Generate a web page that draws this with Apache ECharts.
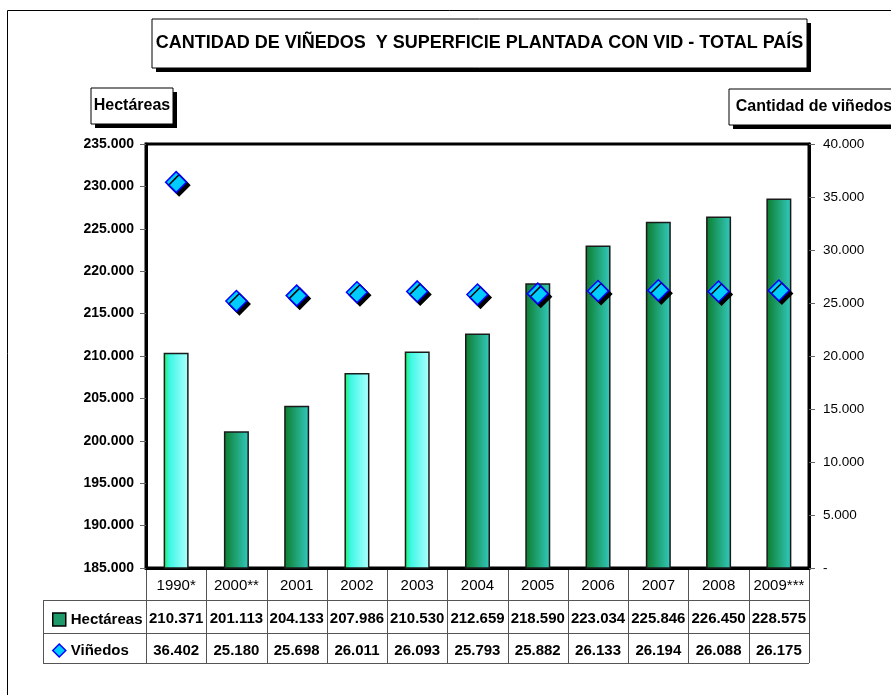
<!DOCTYPE html>
<html>
<head>
<meta charset="utf-8">
<script src="https://cdn.jsdelivr.net/npm/echarts@6/dist/echarts.min.js"></script>
<style>
  html, body { margin: 0; padding: 0; background: #fff; }
  #chart { width: 891px; height: 695px; }
</style>
</head>
<body>
<div id="chart"></div>
<script>
var years = ['1990*', '2000**', '2001', '2002', '2003', '2004', '2005', '2006', '2007', '2008', '2009***'];
var hectareas = [210371, 201113, 204133, 207986, 210530, 212659, 218590, 223034, 225846, 226450, 228575];
var vinedos = [36402, 25180, 25698, 26011, 26093, 25793, 25882, 26133, 26194, 26088, 26175];
// years drawn with the pale fill
var paleYears = ['1990*', '2002', '2003'];

var FONT = '"Liberation Sans", Arial, sans-serif';

function fmt(v) {
  if (v === 0) return '-';
  return String(v).replace(/\B(?=(\d{3})+(?!\d))/g, '.');
}

var darkFill = new echarts.graphic.LinearGradient(0, 0, 1, 0, [
  { offset: 0, color: '#0c7c2c' },
  { offset: 1, color: '#33cabf' }
]);
var paleFill = new echarts.graphic.LinearGradient(0, 0, 1, 0, [
  { offset: 0, color: '#1cee5a' },
  { offset: 0.25, color: '#3ff7e6' },
  { offset: 1, color: '#b0ffff' }
]);

// layout of the data table under the plot
var gL = 146, gR = 809, gT = 144, gB = 568;
var row1 = 600, row2 = 633, row3 = 663, tabLeft = 43;
var colW = (gR - gL) / years.length;

var lineStyle = { stroke: '#555', lineWidth: 1 };
var tableLines = [];
[row1, row2, row3].forEach(function(y) {
  tableLines.push({ type: 'line', shape: { x1: tabLeft, y1: y + 0.5, x2: gR, y2: y + 0.5 }, style: lineStyle, silent: true });
});
tableLines.push({ type: 'line', shape: { x1: tabLeft + 0.5, y1: row1, x2: tabLeft + 0.5, y2: row3 }, style: lineStyle, silent: true });
for (var i = 0; i <= years.length; i++) {
  var x = Math.round(gL + i * colW) + 0.5;
  tableLines.push({ type: 'line', shape: { x1: x, y1: gB, x2: x, y2: row3 }, style: lineStyle, silent: true });
}

function box(x, y, w, h, text, fontSize, bold) {
  return {
    type: 'group',
    children: [
      { type: 'rect', shape: { x: x + 4, y: y + 4, width: w, height: h }, style: { fill: '#000' } },
      { type: 'rect', shape: { x: x, y: y, width: w, height: h }, style: { fill: '#fff', stroke: '#000', lineWidth: 1 } },
      {
        type: 'text', x: x + w / 2, y: y + h / 2,
        style: {
          text: text, fill: '#000', font: (bold ? 'bold ' : '') + fontSize + 'px ' + FONT,
          textAlign: 'center', textVerticalAlign: 'middle'
        }
      }
    ]
  };
}

var chart = echarts.init(document.getElementById('chart'));

var tableLabel = { color: '#000', fontSize: 15, fontWeight: 'bold', margin: 10, interval: 0, fontFamily: FONT };

var option = {
  backgroundColor: '#fff',
  animation: false,
  textStyle: { fontFamily: FONT },
  grid: {
    left: gL, top: gT, width: gR - gL, height: gB - gT,
    show: true, borderColor: '#000', borderWidth: 3, backgroundColor: 'transparent'
  },
  legend: {
    orient: 'vertical',
    left: 47, top: 607,
    itemWidth: 13, itemHeight: 13, itemGap: 16,
    selectedMode: false,
    textStyle: { fontSize: 15, fontWeight: 'bold', color: '#000', fontFamily: FONT },
    data: [
      { name: 'Hectáreas', icon: 'rect', itemStyle: { color: '#1e9a6a', borderColor: '#000', borderWidth: 1.5 } },
      { name: 'Viñedos', icon: 'diamond', itemStyle: { color: '#00ccff', borderColor: '#0000ff', borderWidth: 1.5, shadowColor: 'transparent' } }
    ]
  },
  xAxis: [
    {
      type: 'category', data: years, position: 'bottom',
      axisLine: { show: true, lineStyle: { color: '#000', width: 3 } },
      axisTick: { show: false },
      axisLabel: { color: '#000', fontSize: 15, margin: 10, interval: 0, fontFamily: FONT }
    },
    {
      type: 'category', data: hectareas.map(fmt), position: 'bottom', offset: 33,
      axisLine: { show: false }, axisTick: { show: false },
      axisLabel: tableLabel
    },
    {
      type: 'category', data: vinedos.map(fmt), position: 'bottom', offset: 65,
      axisLine: { show: false }, axisTick: { show: false },
      axisLabel: tableLabel
    }
  ],
  yAxis: [
    {
      type: 'value', min: 185000, max: 235000, interval: 5000, position: 'left',
      axisLine: { show: true, lineStyle: { color: '#000', width: 3 } },
      axisTick: { show: true, length: 6, lineStyle: { color: '#666' } },
      axisLabel: { color: '#000', fontSize: 14, fontWeight: 'bold', margin: 12, formatter: fmt, fontFamily: FONT },
      splitLine: { show: false }
    },
    {
      type: 'value', min: 0, max: 40000, interval: 5000, position: 'right',
      axisLine: { show: true, lineStyle: { color: '#000', width: 3 } },
      axisTick: { show: true, length: 6, lineStyle: { color: '#666' } },
      axisLabel: { color: '#000', fontSize: 13.5, margin: 14, formatter: fmt, fontFamily: FONT },
      splitLine: { show: false }
    }
  ],
  series: [
    {
      name: 'Hectáreas',
      type: 'bar',
      yAxisIndex: 0,
      barWidth: 25,
      itemStyle: { borderColor: '#1a1a1a', borderWidth: 1.5 },
      data: hectareas.map(function(v, i) {
        return {
          value: v,
          itemStyle: { color: paleYears.indexOf(years[i]) >= 0 ? paleFill : darkFill }
        };
      })
    },
    {
      name: 'Viñedos',
      type: 'scatter',
      yAxisIndex: 1,
      symbol: 'diamond',
      symbolSize: 21,
      itemStyle: {
        color: '#00ccff', borderColor: '#0000ff', borderWidth: 1.5, opacity: 1,
        shadowColor: '#000', shadowOffsetX: 3, shadowOffsetY: 3, shadowBlur: 0
      },
      data: vinedos
    }
  ],
  graphic: [
    { type: 'rect', shape: { x: 7.5, y: 10.5, width: 900, height: 700 }, style: { fill: 'transparent', stroke: '#000', lineWidth: 1 }, silent: true, z: -1 },
    box(152, 19, 655, 49, 'CANTIDAD DE VIÑEDOS  Y SUPERFICIE PLANTADA CON VID - TOTAL PAÍS', 18, true),
    box(91, 88, 82, 36, 'Hectáreas', 16, true),
    box(729, 89, 170, 36, 'Cantidad de viñedos', 16, true)
  ].concat(tableLines)
};

chart.setOption(option);
</script>
</body>
</html>
